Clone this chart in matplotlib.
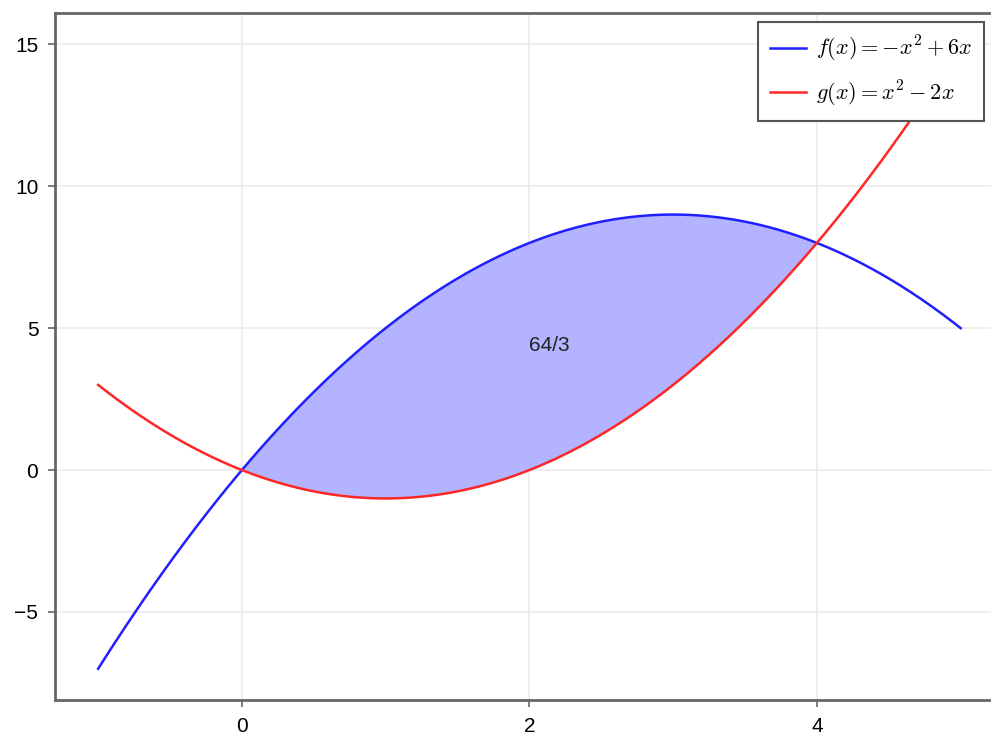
import numpy as np
import matplotlib.pyplot as plt

plt.rcParams['font.family'] = ['Liberation Sans', 'DejaVu Sans']
plt.rcParams['mathtext.fontset'] = 'cm'

# polynomial coefficients (highest power first)
f_coef = [-1, 6, 0]
g_coef = [1, -2, 0]
x_range = [-1, 5]
fill_range = [0, 4]
area_label = "64/3"
area_pos = [2, 4.4]
xticks = [0, 2, 4]
yticks = [-5, 0, 5, 10, 15]

x = np.linspace(x_range[0], x_range[1], 400)
xf = np.linspace(fill_range[0], fill_range[1], 300)

fig = plt.figure(figsize=(9.91, 7.40), dpi=100)
ax = fig.add_axes([55 / 991, 1 - 700 / 740, 948.75 / 991, 687 / 740])

ax.fill_between(xf, np.polyval(g_coef, xf), np.polyval(f_coef, xf),
                color=(0.70, 0.70, 1.0), lw=0, zorder=1)
ax.plot(x, np.polyval(f_coef, x), color=(0.12, 0.12, 1.0), lw=1.8,
        label=r'$f(x) = -x^2 + 6x$', zorder=3)
ax.plot(x, np.polyval(g_coef, x), color=(1.0, 0.15, 0.15), lw=1.8,
        label=r'$g(x) = x^2 - 2x$', zorder=3)
ax.text(area_pos[0], area_pos[1], area_label, ha='left', va='center',
        fontsize=15, color='#222222', zorder=4)

ax.set_xlim(-1.3, 5.3)
ax.set_ylim(-8.1, 16.1)
ax.set_xticks(xticks)
ax.set_yticks(yticks)
ax.tick_params(labelsize=15, length=5, width=1.2, color='#666666', pad=7)
ax.grid(True, color='#ebebeb', lw=1.2, zorder=0)
ax.set_axisbelow(True)
for s in ax.spines.values():
    s.set_color('#666666')
    s.set_linewidth(2)

leg = ax.legend(loc='upper left', bbox_to_anchor=(758 / 991, 1 - 22 / 740),
                bbox_transform=fig.transFigure, borderaxespad=0,
                fontsize=16, fancybox=False, framealpha=1, edgecolor='#555555',
                handlelength=1.6, labelspacing=0.65, borderpad=0.55, handletextpad=0.45)
leg.get_frame().set_linewidth(1.5)

fig.savefig('out.png', dpi=100)
